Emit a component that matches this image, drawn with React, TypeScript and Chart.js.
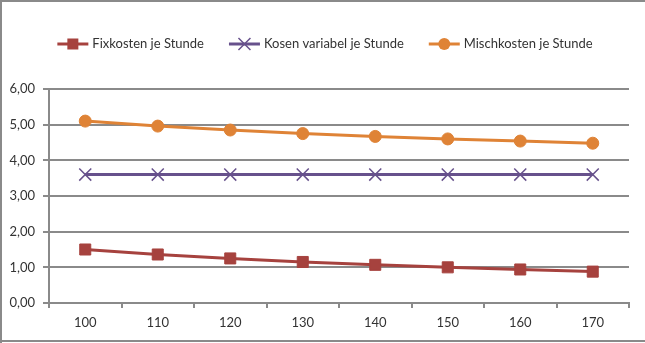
import React, { useEffect, useRef } from "react";
import { Chart, registerables } from "chart.js";

Chart.register(...registerables);

const categories = ["100", "110", "120", "130", "140", "150", "160", "170"];
const fixkosten = [1.5, 1.36, 1.25, 1.15, 1.07, 1.0, 0.94, 0.88];
const variabel = [3.6, 3.6, 3.6, 3.6, 3.6, 3.6, 3.6, 3.6];
const mischkosten = [5.1, 4.96, 4.85, 4.75, 4.67, 4.6, 4.54, 4.48];
const seriesNames = ["Fixkosten je Stunde", "Kosen variabel je Stunde", "Mischkosten je Stunde"];
const seriesColors = ["#A6423E", "#67518C", "#DF8336"];
const yMin = 0;
const yMax = 6;
const yStep = 1;

const FONT = "Lato";
const GRAY = "#8a8a8a";
const TEXT = "#333333";

function drawMarker(ctx: CanvasRenderingContext2D, style: string, x: number, y: number, color: string) {
  ctx.save();
  ctx.fillStyle = color;
  ctx.strokeStyle = color;
  if (style === "rect") {
    ctx.fillRect(x - 5.5, y - 5.5, 11, 11);
  } else if (style === "circle") {
    ctx.beginPath();
    ctx.arc(x, y, 6, 0, Math.PI * 2);
    ctx.fill();
  } else {
    ctx.lineWidth = 1.5;
    ctx.beginPath();
    ctx.moveTo(x - 6, y - 6);
    ctx.lineTo(x + 6, y + 6);
    ctx.moveTo(x + 6, y - 6);
    ctx.lineTo(x - 6, y + 6);
    ctx.stroke();
  }
  ctx.restore();
}

const framePlugin = {
  id: "frame",
  beforeDraw(chart: any) {
    const ctx = chart.ctx as CanvasRenderingContext2D;
    ctx.save();
    ctx.fillStyle = "#ffffff";
    ctx.fillRect(0, 0, chart.width, chart.height);
    ctx.fillStyle = GRAY;
    ctx.fillRect(0, 0, chart.width, 2);
    ctx.fillRect(0, 0, 2, chart.height);
    ctx.fillRect(0, chart.height - 3, chart.width, 2);
    ctx.restore();
  },
};

const legendPlugin = {
  id: "customLegend",
  afterDraw(chart: any) {
    const ctx = chart.ctx as CanvasRenderingContext2D;
    ctx.save();
    ctx.font = `13px ${FONT}`;
    ctx.textBaseline = "middle";
    const lineLen = 31;
    const textGap = 4;
    const itemGap = 25;
    const items = chart.data.datasets.map((ds: any) => ({
      ds,
      w: ctx.measureText(ds.label).width,
    }));
    const total =
      items.reduce((s: number, it: any) => s + lineLen + textGap + it.w, 0) + itemGap * (items.length - 1);
    let x = 325 - total / 2;
    const y = 44;
    for (const it of items) {
      const c = it.ds.borderColor;
      ctx.strokeStyle = c;
      ctx.lineWidth = 3;
      ctx.beginPath();
      ctx.moveTo(x, y);
      ctx.lineTo(x + lineLen, y);
      ctx.stroke();
      drawMarker(ctx, it.ds.pointStyle, x + lineLen / 2, y, c);
      ctx.fillStyle = TEXT;
      ctx.fillText(it.ds.label, x + lineLen + textGap, y);
      x += lineLen + textGap + it.w + itemGap;
    }
    ctx.restore();
  },
};

export default function App() {
  const ref = useRef<HTMLCanvasElement | null>(null);

  useEffect(() => {
    document.body.style.margin = "0";
    if (!ref.current) return;
    const chart = new Chart(ref.current, {
      type: "line",
      data: {
        labels: categories,
        datasets: [
          {
            label: seriesNames[0],
            data: fixkosten,
            borderColor: seriesColors[0],
            backgroundColor: seriesColors[0],
            borderWidth: 3,
            pointStyle: "rect",
            pointRadius: 7.8,
            pointBorderWidth: 1,
            tension: 0,
          },
          {
            label: seriesNames[1],
            data: variabel,
            borderColor: seriesColors[1],
            backgroundColor: seriesColors[1],
            borderWidth: 3,
            pointStyle: "crossRot",
            pointRadius: 8.5,
            pointBorderWidth: 1.5,
            tension: 0,
          },
          {
            label: seriesNames[2],
            data: mischkosten,
            borderColor: seriesColors[2],
            backgroundColor: seriesColors[2],
            borderWidth: 3,
            pointStyle: "circle",
            pointRadius: 6,
            pointBorderWidth: 1,
            tension: 0,
          },
        ],
      },
      options: {
        responsive: false,
        animation: false,
        layout: { padding: { top: 89, right: 16, left: 0, bottom: 0 } },
        plugins: {
          legend: { display: false },
          tooltip: { enabled: false },
        },
        scales: {
          x: {
            type: "category",
            offset: true,
            grid: {
              offset: true,
              drawOnChartArea: false,
              drawTicks: true,
              tickLength: 5,
              color: GRAY,
              lineWidth: 2,
            },
            border: { display: true, color: GRAY, width: 2 },
            ticks: { padding: 7, color: TEXT, font: { family: FONT, size: 13 } },
            afterFit: (s: any) => {
              s.height = 40;
            },
          },
          y: {
            min: yMin,
            max: yMax,
            grid: { color: GRAY, lineWidth: 2, tickLength: 6, drawTicks: true },
            border: { display: true, color: GRAY, width: 2 },
            ticks: {
              stepSize: yStep,
              padding: 8,
              color: TEXT,
              font: { family: FONT, size: 13 },
              callback: (v: any) => Number(v).toFixed(2).replace(".", ","),
            },
            afterFit: (s: any) => {
              s.width = 49;
            },
          },
        },
      },
      plugins: [framePlugin, legendPlugin],
    });
    return () => chart.destroy();
  }, []);

  return (
    <div style={{ position: "fixed", left: 0, top: 0, width: 645, height: 343 }}>
      <canvas ref={ref} width={645} height={343} style={{ width: 645, height: 343, display: "block" }} />
    </div>
  );
}
